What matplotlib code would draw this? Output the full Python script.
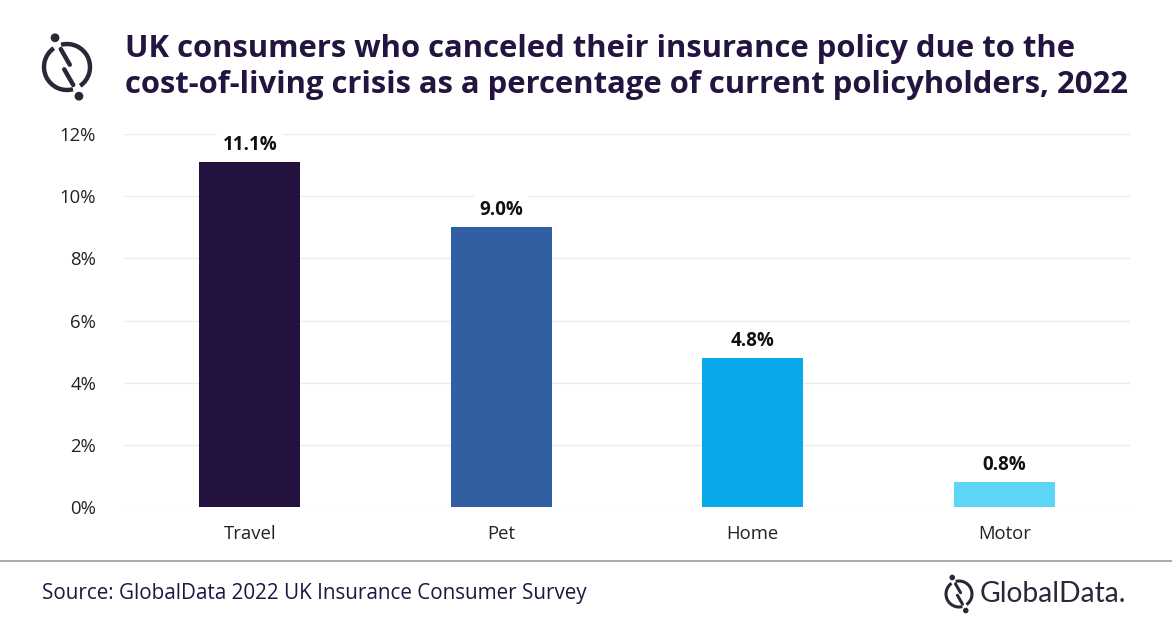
import matplotlib
matplotlib.use("Agg")
import matplotlib.pyplot as plt
from matplotlib.patches import Arc, Circle
from matplotlib.lines import Line2D

categories = ["Travel", "Pet", "Home", "Motor"]
values = [11.1, 9.0, 4.8, 0.8]
bar_colors = ["#231240", "#315FA1", "#07A9EB", "#5DD6F6"]
yticks = [0, 2, 4, 6, 8, 10, 12]
title = ("UK consumers who canceled their insurance policy due to the\n"
         "cost-of-living crisis as a percentage of current policyholders, 2022")
source = "Source: GlobalData 2022 UK Insurance Consumer Survey"

W, H = 1172, 628
DARK = "#231540"
plt.rcParams['font.family'] = ['Open Sans', 'DejaVu Sans']

fig = plt.figure(figsize=(W / 100, H / 100), dpi=100)

ax = fig.add_axes([124 / W, 1 - 507 / H, (1130 - 124) / W, (507 - 134) / H])
x = list(range(len(categories)))
bars = ax.bar(x, values, width=0.4, color=bar_colors, zorder=3)
ax.set_xlim(-0.5, len(categories) - 0.5)
ax.set_ylim(0, 12)
ax.set_yticks(yticks)
ax.set_yticklabels([f"{t}%" for t in yticks], fontsize=13.3, color="#222222")
ax.set_xticks(x)
ax.set_xticklabels(categories, fontsize=13.3, color="#222222")
ax.tick_params(axis='both', length=0)
ax.tick_params(axis='y', pad=20)
ax.tick_params(axis='x', pad=13)
ax.grid(axis='y', color="#EBEBEB", linewidth=1, zorder=0)
for s in ax.spines.values():
    s.set_visible(False)

for xi, v in zip(x, values):
    ax.annotate(f"{v:.1f}%", (xi, v), xytext=(0, 5), textcoords="offset points",
                ha="center", va="bottom", fontsize=13.5, fontweight="bold", color="#111111",
                bbox=dict(boxstyle="square,pad=0.3", fc="white", ec="none"), zorder=2.5)

fig.text(125 / W, 1 - 67 / H, title, ha="left", va="center", fontsize=22.3,
         fontweight="bold", color=DARK, linespacing=1.3)

fig.add_artist(Line2D([0, 1], [1 - 561 / H, 1 - 561 / H], color="#999999", linewidth=1.2))
fig.text(42 / W, 1 - 593 / H, source, ha="left", va="center", fontsize=14.9, color=DARK)


def draw_logo(cx, cy, r, lw, color):
    la = fig.add_axes([(cx - r * 1.6) / W, 1 - (cy + r * 1.6) / H, r * 3.2 / W, r * 3.2 / H])
    la.set_xlim(-1.6, 1.6)
    la.set_ylim(-1.6, 1.6)
    la.axis("off")
    la.add_patch(Arc((0, 0), 2, 2, theta1=125, theta2=285, color=color, lw=lw))
    la.add_patch(Arc((0, 0), 2, 2, theta1=305, theta2=465, color=color, lw=lw))
    la.add_patch(Circle((-0.52, 1.27), 0.16, color=color))
    la.add_patch(Circle((0.52, -1.27), 0.16, color=color))
    la.plot([-0.27, 0.12], [0.78, 0.1], color=color, lw=lw, solid_capstyle="round")
    la.plot([-0.12, 0.27], [-0.1, -0.78], color=color, lw=lw, solid_capstyle="round")


draw_logo(67, 67, 23, 3.2, "#2A2838")
draw_logo(959, 594, 13, 2.2, "#2A2838")
fig.text(980 / W, 1 - 594 / H, "GlobalData.", ha="left", va="center", fontsize=20.3,
         color="#2A2838", family=["Lato", "DejaVu Sans"])

fig.savefig("out.png", dpi=100)
